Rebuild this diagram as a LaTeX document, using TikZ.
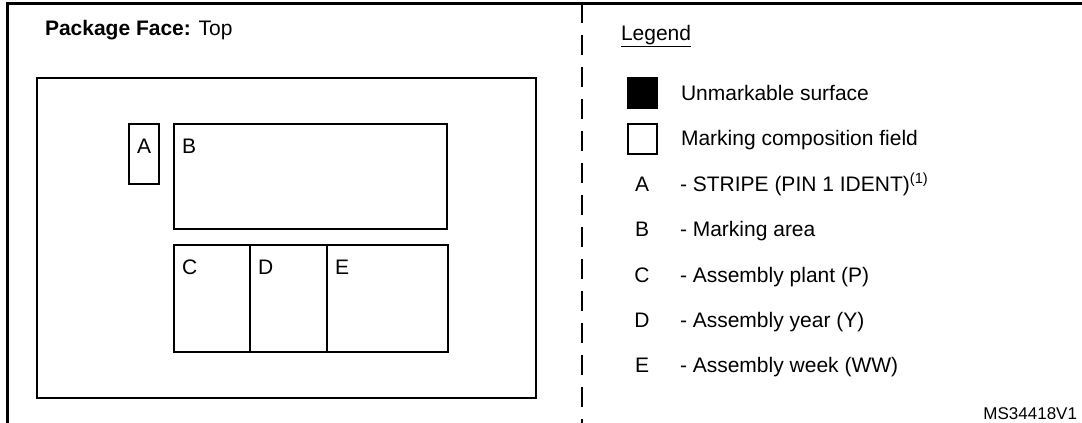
\documentclass[tikz,border=0pt]{standalone}
\usepackage{fontspec}
\setmainfont{Liberation Sans}
\usetikzlibrary{positioning}

\begin{document}
\begin{tikzpicture}[x=1pt,y=-1pt,
				every node/.style={inner sep=0pt,outer sep=0pt,font=\fontsize{21}{25}\selectfont},
				field/.style={draw,line width=2.5pt,rectangle,anchor=north west,node distance=0pt},
				swatch/.style={draw,line width=2.5pt,rectangle,minimum width=29pt,minimum height=30pt,anchor=north west},
				tag/.style={anchor=base west},
				key/.style={anchor=base}]
				\useasboundingbox (0,0) rectangle (1082,423);
				\draw[line width=3pt] (7,423) -- (7,3) -- (1082,3);
				\draw[line width=2.5pt,dash pattern=on 20pt off 12pt] (582,3) -- (582,423);

				\node[tag] (FACE) at (45,35) {\textbf{Package Face:} Top};
				\node[field,minimum width=499pt,minimum height=320pt] (PKG) at (37,78) {};
				\node[field,minimum width=30pt,minimum height=60pt]  (A) at (129,124) {};
				\node[field,minimum width=273pt,minimum height=105pt] (B) at (174,124) {};
				\node[field,minimum width=76pt,minimum height=107pt]  (C) at (174,245) {};
				\node[field,minimum width=77pt,minimum height=107pt]  (D) [right=of C] {};
				\node[field,minimum width=121pt,minimum height=107pt] (E) [right=of D] {};
				\node[tag] (LA) at ([shift={(8,29)}]A.north west) {A};
				\node[tag] (LB) at ([shift={(8,29)}]B.north west) {B};
				\node[tag] (LC) at ([shift={(8,29)}]C.north west) {C};
				\node[tag] (LD) at ([shift={(8,29)}]D.north west) {D};
				\node[tag] (LE) at ([shift={(8,29)}]E.north west) {E};

				\node[tag] (LEGEND) at (621,40) {\underline{Legend}};
				\node[swatch,fill=black] (DARK)  at (628,78)  {};
				\node[swatch]            (LIGHT) at (628,124) {};
				\node[tag] (TDARK)  at (681,100) {Unmarkable surface};
				\node[tag] (TLIGHT) at (681,145) {Marking composition field};
				\node[key] (KA) at (642,191) {A};
				\node[key] (KB) at (642,236) {B};
				\node[key] (KC) at (642,282) {C};
				\node[key] (KD) at (642,327) {D};
				\node[key] (KE) at (642,372) {E};
				\node[tag] (TA) at (680,191) {- STRIPE (PIN 1 IDENT)\textsuperscript{(1)}};
				\node[tag] (TB) at (680,236) {- Marking area};
				\node[tag] (TC) at (680,282) {- Assembly plant (P)};
				\node[tag] (TD) at (680,327) {- Assembly year (Y)};
				\node[tag] (TE) at (680,372) {- Assembly week (WW)};
				\node[anchor=base east,font=\fontsize{17}{20}\selectfont] (REF) at (1077,419) {MS34418V1};
			\end{tikzpicture}
\end{document}
